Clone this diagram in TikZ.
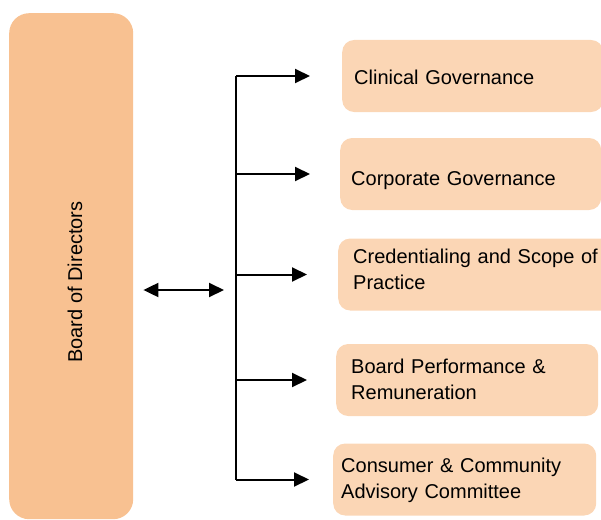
\documentclass[tikz,border=0pt]{standalone}
\usepackage{fontspec}
\setmainfont{Liberation Sans}
\usetikzlibrary{arrows.meta}
\definecolor{boardfill}{HTML}{F8C191}
\definecolor{committeefill}{HTML}{FBD6B5}
\tikzset{
  board/.style={fill=boardfill,rounded corners=20pt,anchor=north west,minimum width=124pt,minimum height=506pt},
  committee/.style n args={3}{fill=committeefill,rounded corners=12pt,anchor=west,minimum height=72pt,
    align=left,inner xsep=12pt,text width=#1,text height=#2,text depth=#3},
  link/.style={line width=2pt}
}
\begin{document}
\begin{tikzpicture}[x=1pt,y=-1pt,>={Triangle[length=15pt,width=14pt]},font=\fontsize{20}{26}\selectfont]
	\clip (0,0) rectangle (601,519);
	\node[board] (board) at (9,13) {};
	\node[rotate=90] (boardtext) at (75,282) {Board of Directors};
	\node[committee={237pt}{20pt}{4pt}] (clinical) at (342,76) {Clinical Governance};
	\node[committee={239pt}{26pt}{4pt},inner xsep=11pt] (corporate) at (340,174) {Corporate Governance};
	\node[committee={250pt}{15pt}{38pt},inner xsep=15pt] (credentialing) at (338,274.5) {Credentialing and Scope of\\Practice};
	\node[committee={232pt}{15pt}{29pt},inner xsep=15pt] (performance) at (336,380) {Board Performance \&\\Remuneration};
	\node[committee={247pt}{15pt}{30pt},inner xsep=8pt] (consumer) at (333,479.5) {Consumer \& Community\\Advisory Committee};
	\coordinate (split) at (236,290);
	\draw[link] (split |- clinical.west) -- (split |- consumer.west);
	\draw[link,<->,shorten <=10pt,shorten >=12pt] (board.east |- split) -- (split);
	\foreach \n/\g in {clinical/32,corporate/30,credentialing/31,performance/29,consumer/24}
		\draw[link,->,shorten >=\g pt] (split |- \n.west) -- (\n.west);
\end{tikzpicture}
\end{document}
